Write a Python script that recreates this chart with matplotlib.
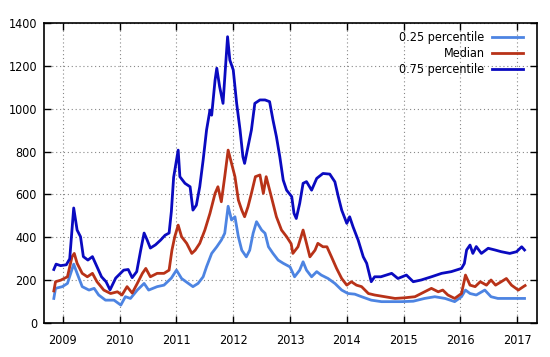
import numpy as np
import matplotlib
matplotlib.use("Agg")
import matplotlib.pyplot as plt

# values (x in fractional years)
t25 = [2008.84, 2008.87, 2008.99, 2009.08, 2009.19, 2009.25, 2009.34, 2009.46, 2009.55, 2009.63,
       2009.75, 2009.90, 2010.02, 2010.10, 2010.19, 2010.31, 2010.43, 2010.51, 2010.66, 2010.78,
       2010.91, 2011.00, 2011.09, 2011.21, 2011.29, 2011.38, 2011.47, 2011.53, 2011.62, 2011.71,
       2011.79, 2011.85, 2011.91, 2011.97, 2012.03, 2012.09, 2012.15, 2012.23, 2012.29, 2012.35,
       2012.41, 2012.50, 2012.56, 2012.62, 2012.70, 2012.79, 2012.88, 2013.00, 2013.08, 2013.17,
       2013.23, 2013.29, 2013.38, 2013.47, 2013.55, 2013.67, 2013.79, 2013.91, 2014.02, 2014.14,
       2014.26, 2014.43, 2014.61, 2014.78, 2014.96, 2015.17, 2015.37, 2015.55, 2015.73, 2015.90,
       2016.02, 2016.09, 2016.17, 2016.28, 2016.43, 2016.54, 2016.66, 2016.84, 2017.02, 2017.13]
v25 = [115, 162, 170, 185, 275, 232, 170, 154, 162, 131,
       107, 107, 84, 123, 115, 154, 185, 154, 170, 177,
       210, 247, 208, 185, 170, 185, 216, 263, 325, 356,
       387, 419, 545, 481, 496, 403, 340, 309, 340, 419,
       473, 434, 419, 356, 325, 294, 279, 262, 216, 247,
       286, 247, 216, 240, 224, 208, 185, 154, 138, 135,
       123, 107, 100, 100, 100, 102, 115, 123, 115, 100,
       123, 154, 138, 131, 154, 123, 115, 115, 115, 115]

t50 = [2008.84, 2008.87, 2008.96, 2009.08, 2009.16, 2009.20, 2009.25, 2009.34, 2009.43, 2009.52,
       2009.60, 2009.72, 2009.84, 2009.96, 2010.04, 2010.13, 2010.22, 2010.31, 2010.40, 2010.46,
       2010.54, 2010.66, 2010.78, 2010.87, 2010.92, 2010.97, 2011.03, 2011.09, 2011.18, 2011.27,
       2011.33, 2011.41, 2011.50, 2011.59, 2011.68, 2011.73, 2011.79, 2011.85, 2011.91, 2011.97,
       2012.03, 2012.09, 2012.15, 2012.20, 2012.26, 2012.32, 2012.39, 2012.47, 2012.53, 2012.58,
       2012.67, 2012.76, 2012.85, 2012.94, 2013.02, 2013.05, 2013.14, 2013.23, 2013.29, 2013.35,
       2013.44, 2013.49, 2013.58, 2013.65, 2013.73, 2013.82, 2013.91, 2014.00, 2014.08, 2014.17,
       2014.26, 2014.38, 2014.49, 2014.67, 2014.85, 2015.02, 2015.20, 2015.37, 2015.49, 2015.61,
       2015.69, 2015.78, 2015.90, 2016.02, 2016.09, 2016.17, 2016.26, 2016.35, 2016.46, 2016.54,
       2016.62, 2016.72, 2016.81, 2016.90, 2017.02, 2017.11, 2017.14]
v50 = [150, 193, 200, 216, 309, 325, 279, 232, 216, 232,
       193, 154, 138, 146, 131, 170, 140, 185, 232, 255,
       216, 232, 232, 247, 340, 403, 457, 403, 372, 325,
       340, 372, 434, 512, 605, 636, 566, 683, 807, 745,
       683, 574, 527, 496, 543, 605, 683, 691, 605, 683,
       590, 496, 434, 403, 370, 325, 356, 434, 372, 309,
       340, 372, 356, 356, 309, 255, 208, 177, 193, 177,
       170, 138, 131, 123, 115, 118, 123, 146, 162, 146,
       154, 131, 115, 138, 224, 177, 170, 193, 177, 201,
       177, 193, 208, 177, 154, 170, 175]

t75 = [2008.84, 2008.88, 2008.96, 2009.06, 2009.12, 2009.19, 2009.25, 2009.31, 2009.36, 2009.44,
       2009.52, 2009.60, 2009.68, 2009.76, 2009.83, 2009.93, 2010.07, 2010.15, 2010.22, 2010.30,
       2010.37, 2010.43, 2010.48, 2010.54, 2010.63, 2010.72, 2010.80, 2010.87, 2010.91, 2010.95,
       2011.03, 2011.06, 2011.15, 2011.24, 2011.29, 2011.35, 2011.41, 2011.47, 2011.53, 2011.59,
       2011.62, 2011.68, 2011.71, 2011.76, 2011.82, 2011.86, 2011.90, 2011.94, 2012.00, 2012.06,
       2012.12, 2012.17, 2012.20, 2012.26, 2012.32, 2012.38, 2012.47, 2012.56, 2012.64, 2012.70,
       2012.76, 2012.82, 2012.88, 2012.94, 2013.03, 2013.07, 2013.11, 2013.17, 2013.23, 2013.29,
       2013.38, 2013.47, 2013.58, 2013.70, 2013.79, 2013.85, 2013.91, 2014.00, 2014.05, 2014.11,
       2014.20, 2014.29, 2014.35, 2014.43, 2014.49, 2014.60, 2014.79, 2014.90, 2015.05, 2015.17,
       2015.31, 2015.49, 2015.67, 2015.84, 2016.02, 2016.07, 2016.11, 2016.17, 2016.22, 2016.28,
       2016.37, 2016.49, 2016.61, 2016.72, 2016.87, 2016.99, 2017.08, 2017.13]
v75 = [250, 275, 268, 272, 300, 537, 434, 403, 310, 294,
       310, 263, 216, 193, 155, 210, 247, 250, 212, 240,
       340, 420, 390, 350, 365, 387, 410, 420, 520, 680,
       807, 683, 652, 636, 527, 550, 636, 761, 901, 994,
       970, 1134, 1189, 1103, 1025, 1181, 1336, 1227, 1181, 1025,
       901, 776, 745, 823, 901, 1025, 1041, 1041, 1033, 947,
       870, 776, 667, 620, 590, 512, 488, 558, 652, 660,
       620, 675, 698, 695, 659, 590, 527, 465, 496, 449,
       387, 309, 279, 193, 216, 216, 232, 208, 224, 193,
       201, 216, 232, 240, 255, 278, 341, 364, 325, 357,
       325, 349, 341, 333, 325, 333, 356, 341]

years = list(range(2009, 2018))
yticks = list(range(0, 1401, 200))

# condensed sans to get the narrow gnuplot-ish labels
plt.rcParams['font.family'] = ['DejaVu Sans']
plt.rcParams['font.stretch'] = 'condensed'
plt.rcParams['font.size'] = 9

fig = plt.figure(figsize=(5.5, 3.57), dpi=100)
ax = fig.add_axes([0.08, 0.095, 0.8964, 0.8406])

ax.plot(t25, v25, color='#4d84e2', lw=2.0, label='0.25 percentile')
ax.plot(t50, v50, color='#b83218', lw=2.0, label='Median')
ax.plot(t75, v75, color='#0a0ac0', lw=2.0, label='0.75 percentile')

ax.set_xlim(2008.667, 2017.35)
ax.set_ylim(0, 1400)
ax.set_xticks(years)
ax.set_xticklabels([str(y) for y in years])
ax.set_yticks(yticks)
ax.tick_params(direction='in', length=5, width=1, top=True, right=True, pad=5)
ax.tick_params(axis='x', pad=8)
ax.grid(True, linestyle=(0, (1, 2.5)), color='#888888', lw=0.8)
for s in ax.spines.values():
    s.set_linewidth(1.2)

ax.legend(loc='upper right', bbox_to_anchor=(0.982, 0.99), borderaxespad=0,
          frameon=False, markerfirst=False, handlelength=2.5,
          labelspacing=0.25, handletextpad=0.6, fontsize=9)

fig.savefig('out.png', dpi=100)
